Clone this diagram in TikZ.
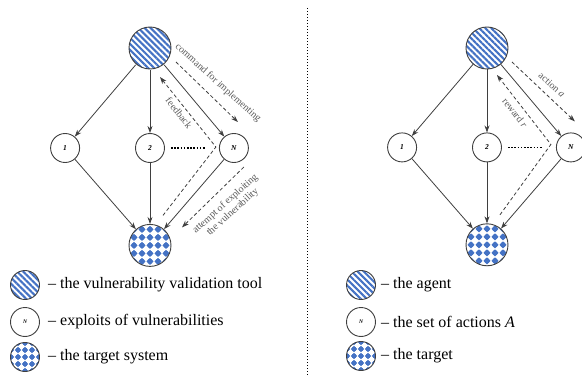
\documentclass[tikz,border=0pt]{standalone}
\usepackage{fontspec}
\setmainfont{Liberation Serif}
\usetikzlibrary{arrows.meta,positioning,patterns.meta}

\definecolor{fillblue}{HTML}{4472C4}
\definecolor{edgegray}{HTML}{3F3F3F}
\definecolor{notegray}{HTML}{5A5A5A}

\begin{document}
\begin{tikzpicture}[
    x=1pt, y=1pt,
    tool/.style={circle, draw=edgegray, line width=0.9pt, minimum size=#1, inner sep=0pt,
        pattern={Lines[angle=-45, distance=4.3pt, line width=2.1pt]}, pattern color=fillblue},
    exploit/.style={circle, draw=edgegray, line width=0.9pt, minimum size=29pt, inner sep=0pt,
        font=\fontsize{7.5}{8}\selectfont\bfseries\itshape},
    target/.style={circle, draw=edgegray, line width=0.9pt, minimum size=#1, inner sep=0pt},
    chequer/.style={path picture={
        \foreach \i in {-3,...,3} \foreach \j in {-3,...,3} {
            \fill[fillblue] ([shift={(\i*#1,\j*#1)}]path picture bounding box.center)
                +(0,0.44*#1) -- +(0.44*#1,0) -- +(0,-0.44*#1) -- +(-0.44*#1,0) -- cycle;
            \fill[fillblue] ([shift={(\i*#1,\j*#1)}]path picture bounding box.center) circle (0.34*#1);}}},
    link/.style={edgegray, line width=0.8pt, -{Stealth[length=7pt, width=5pt]}},
    hint/.style={edgegray, line width=0.8pt, dash pattern=on 3.5pt off 2.5pt, -{Stealth[length=7pt, width=5pt]}},
    dots/.style={line width=1.6pt, dash pattern=on 1.6pt off 1.6pt},
    note/.style={text=notegray, font=\fontsize{10}{11}\selectfont, inner sep=0pt, align=center},
    legtext/.style={font=\fontsize{16}{18}\selectfont, inner sep=0pt, anchor=west}
]
    \useasboundingbox (0,0) rectangle (582,376);

    % left: tool, exploits, target system
    \node [tool=42pt] (toolL) at (150,328) {};
    \node [exploit, below=63pt of toolL] (n2L) {2};
    \node [exploit, left=55pt of n2L] (n1L) {1};
    \node [exploit, right=54pt of n2L] (nNL) {N};
    \node [target=42pt, chequer=8, below=61pt of n2L] (targetL) {};

    \draw [link] (toolL) -- (n1L);
    \draw [link] (toolL) -- (n2L);
    \draw [link] (toolL) -- (nNL);
    \draw [link] (n1L) -- (targetL);
    \draw [link] (n2L) -- (targetL);
    \draw [link] (nNL) -- (targetL);
    \draw [dots] ([xshift=6pt]n2L.east) -- ([xshift=-14pt]nNL.west);

    \coordinate (cmdA) at ([shift={(26,-14)}]toolL.center);
    \coordinate (cmdB) at ([shift={(4,26)}]nNL.center);
    \coordinate (fbA) at ([shift={(13,30)}]targetL.center);
    \coordinate (fbB) at ([shift={(-18,1)}]nNL.center);
    \coordinate (fbC) at ([shift={(10,-29)}]toolL.center);
    \coordinate (atA) at ([shift={(10,-19)}]nNL.center);
    \coordinate (atB) at ([shift={(32,18)}]targetL.center);

    \draw [hint] (cmdA) -- (cmdB);
    \draw [hint] (fbA) -- (fbB) -- (fbC);
    \draw [hint] (atA) -- (atB);

    \node [note, rotate=-42] (cmdLbl) at (218,293) {command for implementing};
    \node [note, rotate=-52] (fbLbl) at (179,263) {feedback};
    \node [note, rotate=42] (atLbl) at (229,168) {attempt of exploiting\\the vulnerability};

    % right: agent, actions, target
    \node [tool=42pt] (toolR) at (487,328) {};
    \node [exploit, below=63pt of toolR] (n2R) {2};
    \node [exploit, left=55pt of n2R] (n1R) {1};
    \node [exploit, right=54pt of n2R] (nNR) {N};
    \node [target=42pt, chequer=8, below=61pt of n2R] (targetR) {};

    \draw [link] (toolR) -- (n1R);
    \draw [link] (toolR) -- (n2R);
    \draw [link] (toolR) -- (nNR);
    \draw [link] (n1R) -- (targetR);
    \draw [link] (n2R) -- (targetR);
    \draw [link] (nNR) -- (targetR);
    \draw [dots] ([xshift=6pt]n2R.east) -- ([xshift=-14pt]nNR.west);

    \coordinate (actA) at ([shift={(25,-14)}]toolR.center);
    \coordinate (actB) at ([shift={(4,26)}]nNR.center);
    \coordinate (rwA) at ([shift={(13,30)}]targetR.center);
    \coordinate (rwB) at ([shift={(-20,3)}]nNR.center);
    \coordinate (rwC) at ([shift={(10,-27)}]toolR.center);

    \draw [hint] (actA) -- (actB);
    \draw [hint] (rwA) -- (rwB) -- (rwC);

    \node [note, rotate=-42] (actLbl) at (552,291) {action \textit{a}};
    \node [note, rotate=-52] (rwLbl) at (515,263) {reward \textit{r}};

    % divider
    \draw [line width=1.4pt, dash pattern=on 1.4pt off 1.6pt] (307.5,368) -- (307.5,0);

    % legends
    \node [tool=29pt] (legToolL) at (25,91) {};
    \node [exploit, font=\fontsize{5.5}{6}\selectfont\bfseries\itshape] (legExpL) at (25,54) {N};
    \node [target=29pt, chequer=7] (legTargetL) at (25,19) {};
    \node [legtext, right=8pt of legToolL] (legToolTxtL) {-- the vulnerability validation tool};
    \node [legtext, right=8pt of legExpL] (legExpTxtL) {-- exploits of vulnerabilities};
    \node [legtext, right=8pt of legTargetL] (legTargetTxtL) {-- the target system};

    \node [tool=29pt] (legToolR) at (361,91) {};
    \node [exploit, font=\fontsize{5.5}{6}\selectfont\bfseries\itshape] (legExpR) at (361,54) {N};
    \node [target=29pt, chequer=7] (legTargetR) at (361,20) {};
    \node [legtext, right=5pt of legToolR] (legToolTxtR) {-- the agent};
    \node [legtext, right=5pt of legExpR] (legExpTxtR) {-- the set of actions \textit{A}};
    \node [legtext, right=5pt of legTargetR] (legTargetTxtR) {-- the target};
\end{tikzpicture}
\end{document}
